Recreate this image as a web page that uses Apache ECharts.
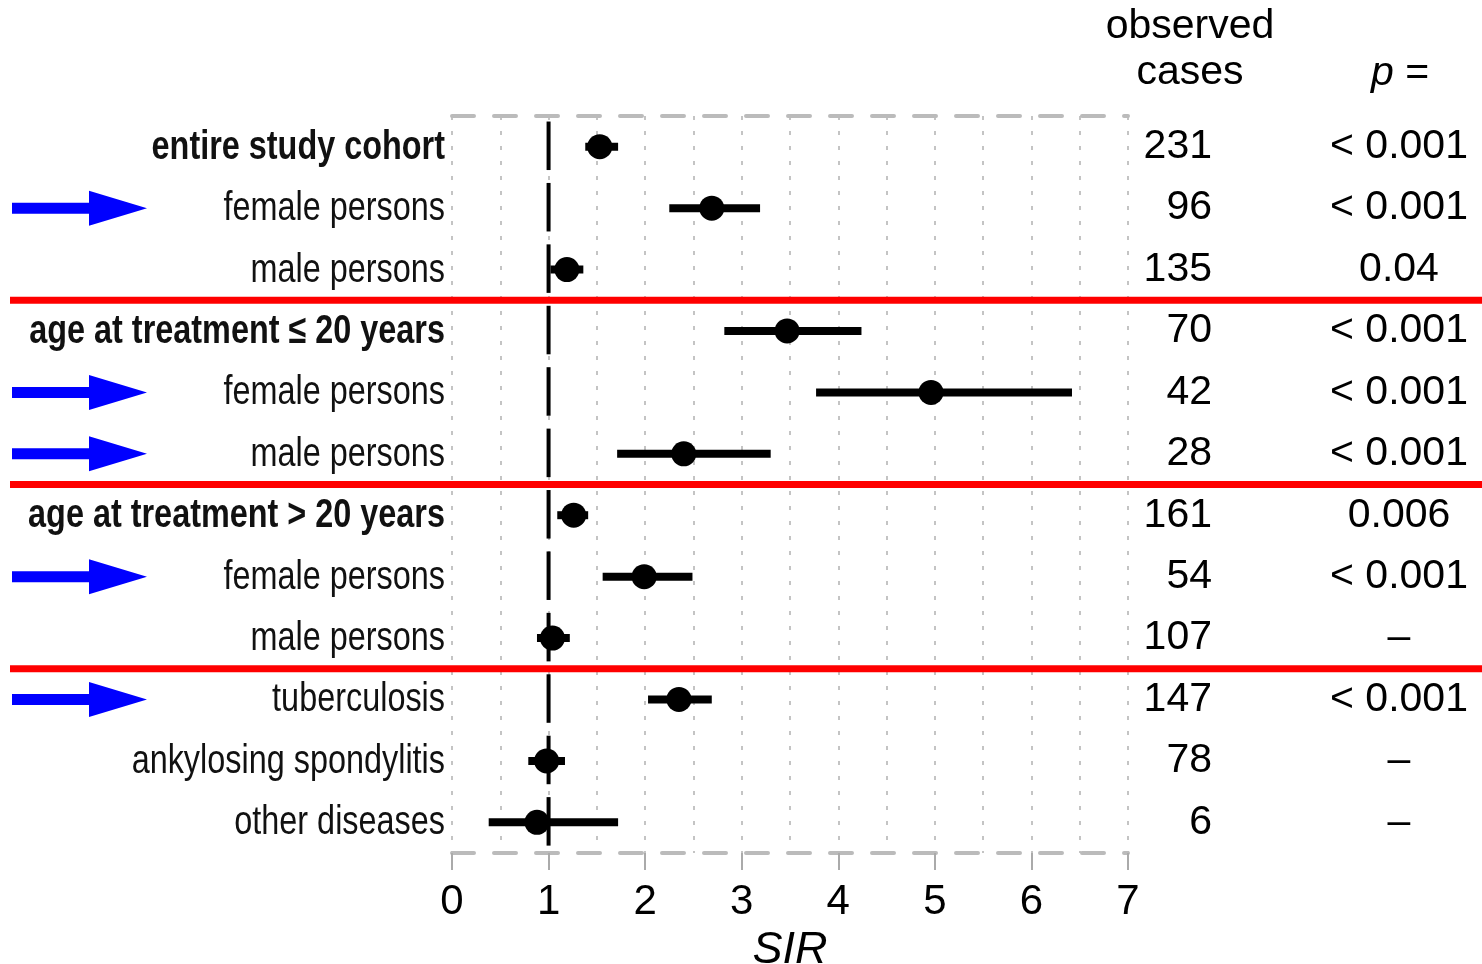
<!DOCTYPE html>
<html>
<head>
<meta charset="utf-8">
<script src="https://cdn.jsdelivr.net/npm/echarts@6/dist/echarts.min.js"></script>
<style>
  html, body { margin: 0; padding: 0; background: #fff; }
  #main { width: 1482px; height: 964px; }
</style>
</head>
<body>
<div id="main"></div>
<script>
// ---- data ----
const categories = [
  'entire study cohort', 'female persons', 'male persons',
  'age at treatment \u2264 20 years', 'female persons', 'male persons',
  'age at treatment > 20 years', 'female persons', 'male persons',
  'tuberculosis', 'ankylosing spondylitis', 'other diseases'
];
const boldRows = [0, 3, 6];
const arrowRows = [1, 4, 5, 7, 9];
const separatorsAfter = [2, 5, 8];
const sir   = [1.53, 2.69, 1.19, 3.47, 4.96, 2.40, 1.26, 1.99, 1.04, 2.35, 0.98, 0.88];
const lower = [1.38, 2.25, 1.02, 2.82, 3.77, 1.71, 1.09, 1.56, 0.88, 2.03, 0.79, 0.38];
const upper = [1.72, 3.19, 1.36, 4.24, 6.42, 3.30, 1.41, 2.49, 1.22, 2.69, 1.17, 1.72];
const observedCases = ['231', '96', '135', '70', '42', '28', '161', '54', '107', '147', '78', '6'];
const pValues = ['< 0.001', '< 0.001', '0.04', '< 0.001', '< 0.001', '< 0.001', '0.006', '< 0.001', '\u2013', '< 0.001', '\u2013', '\u2013'];
const xTicks = [0, 1, 2, 3, 4, 5, 6, 7];
const referenceValue = 1;

// ---- chart ----
const SANS = '"Liberation Sans", Arial, Helvetica, sans-serif';
const idx = categories.map((_, i) => String(i));
const chart = echarts.init(document.getElementById('main'), null, { renderer: 'canvas' });

const gridDot = { color: '#c4c4c4', width: 2, type: [4, 11] };
const dashBox = { color: '#bbbbbb', width: 4, type: [22, 20] };

const option = {
  backgroundColor: '#ffffff',
  animation: false,
  grid: { left: 452, right: 354, top: 116, height: 737, containLabel: false, outerBoundsMode: 'none' },
  xAxis: [
    {
      type: 'value', min: xTicks[0], max: xTicks[xTicks.length - 1], interval: 1,
      position: 'bottom',
      axisLine: { show: true, onZero: false, lineStyle: dashBox },
      axisTick: { show: true, length: 17, lineStyle: { color: '#aaaaaa', width: 2 } },
      axisLabel: { fontSize: 42, color: '#000', fontFamily: SANS, margin: 28 },
      splitLine: { show: true, lineStyle: gridDot },
      minorTick: { show: false, splitNumber: 2 },
      minorSplitLine: { show: true, lineStyle: gridDot },
      name: 'SIR', nameLocation: 'middle', nameGap: 64,
      nameTextStyle: { fontSize: 45, fontStyle: 'italic', color: '#000', fontFamily: SANS }
    },
    {
      type: 'value', min: xTicks[0], max: xTicks[xTicks.length - 1], interval: 1,
      position: 'top',
      axisLine: { show: true, onZero: false, lineStyle: dashBox },
      axisTick: { show: false }, axisLabel: { show: false }, splitLine: { show: false }
    }
  ],
  yAxis: [
    {
      type: 'category', data: idx, inverse: true, position: 'left',
      axisLine: { show: false }, axisTick: { show: false }, splitLine: { show: false },
      axisLabel: { show: false }
    },
    {
      type: 'category', data: idx, inverse: true, position: 'right', offset: 0,
      axisLine: { show: false }, axisTick: { show: false }, splitLine: { show: false },
      axisLabel: {
        margin: 84, align: 'right', fontSize: 41, color: '#000', fontFamily: SANS,
        formatter: (v) => observedCases[+v]
      }
    },
    {
      type: 'category', data: idx, inverse: true, position: 'right', offset: 0,
      axisLine: { show: false }, axisTick: { show: false }, splitLine: { show: false },
      axisLabel: {
        margin: 271, align: 'center', fontSize: 41, color: '#000', fontFamily: SANS,
        formatter: (v) => pValues[+v]
      }
    }
  ],
  series: [
    {
      type: 'custom', name: 'reference', xAxisIndex: 0, yAxisIndex: 0, z: 3,
      data: categories.map((_, i) => [referenceValue, i]),
      renderItem: (params, api) => {
        const p = api.coord([api.value(0), api.value(1)]);
        const h = api.size([0, 1])[1];
        return {
          type: 'line',
          shape: { x1: p[0], y1: p[1] - h * 0.41, x2: p[0], y2: p[1] + h * 0.38 },
          style: { stroke: '#000', lineWidth: 4 }
        };
      }
    },
    {
      type: 'custom', name: 'CI', xAxisIndex: 0, yAxisIndex: 0, z: 4,
      data: categories.map((_, i) => [lower[i], upper[i], i]),
      renderItem: (params, api) => {
        const a = api.coord([api.value(0), api.value(2)]);
        const b = api.coord([api.value(1), api.value(2)]);
        return {
          type: 'line',
          shape: { x1: a[0], y1: a[1], x2: b[0], y2: b[1] },
          style: { stroke: '#000', lineWidth: 8, lineCap: 'butt' }
        };
      }
    },
    {
      type: 'scatter', name: 'SIR', xAxisIndex: 0, yAxisIndex: 0, z: 5,
      symbol: 'circle', symbolSize: 25,
      itemStyle: { color: '#000', opacity: 1 },
      data: categories.map((_, i) => [sir[i], i])
    }
  ]
};
chart.setOption(option);

// Row labels, separators, arrows and headers placed through the chart's own scales
function build() {
  const rowY = (i) => chart.convertToPixel({ yAxisIndex: 0 }, String(i));
  const x0 = chart.convertToPixel({ xAxisIndex: 0 }, xTicks[0]);
  const g = [];
  categories.forEach((name, i) => {
    g.push({
      type: 'text', x: x0 - 7, y: rowY(i) + 1, scaleX: 0.81, z: 20,
      style: {
        text: name, align: 'right', verticalAlign: 'middle',
        fontSize: 40, fontFamily: SANS, fill: '#111',
        fontWeight: boldRows.includes(i) ? 'bold' : 'normal'
      }
    });
  });
  separatorsAfter.forEach((r) => {
    const y = (rowY(r) + rowY(r + 1)) / 2;
    g.push({ type: 'rect', shape: { x: 10, y: y - 3.5, width: 1472, height: 7 }, style: { fill: '#ff0000' }, z: 20 });
  });
  arrowRows.forEach((r) => {
    const y = rowY(r);
    g.push({
      type: 'polygon', z: 20,
      shape: { points: [[12, y - 5.5], [89, y - 5.5], [89, y - 17.5], [147, y], [89, y + 17.5], [89, y + 5.5], [12, y + 5.5]] },
      style: { fill: '#0000ff' }
    });
  });
  g.push({ type: 'text', x: 1190, y: 27, style: { text: 'observed', fontSize: 41, fontFamily: SANS, fill: '#000', align: 'center', verticalAlign: 'middle' }, z: 20 });
  g.push({ type: 'text', x: 1190, y: 73, style: { text: 'cases', fontSize: 41, fontFamily: SANS, fill: '#000', align: 'center', verticalAlign: 'middle' }, z: 20 });
  g.push({
    type: 'text', x: 1400, y: 74, z: 20,
    style: {
      text: '{i|p} =', align: 'center', verticalAlign: 'middle', fontSize: 41, fontFamily: SANS, fill: '#000',
      rich: { i: { fontStyle: 'italic', fontSize: 41, fontFamily: SANS, fill: '#000' } }
    }
  });
  chart.setOption({ graphic: g });
}
build();
</script>
</body>
</html>
